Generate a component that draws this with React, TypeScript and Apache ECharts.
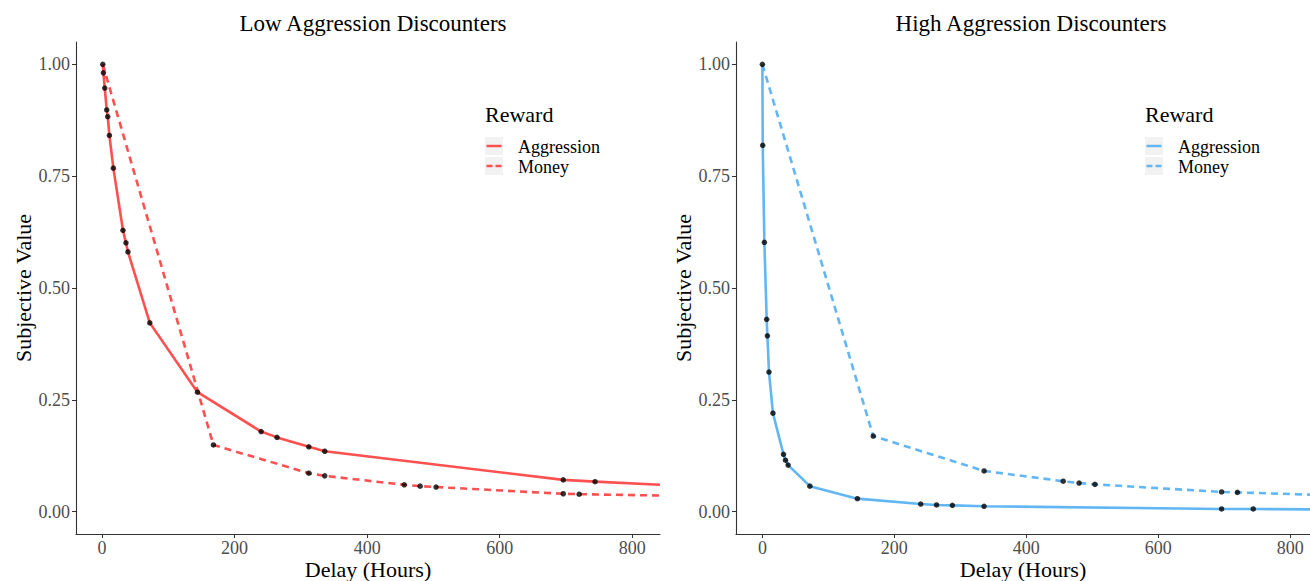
import React, { useEffect, useRef } from "react";
import * as echarts from "echarts";

// ---------- data ----------
const xTicks = [0, 200, 400, 600, 800];
const yTicks = [0, 0.25, 0.5, 0.75, 1.0];

// Low Aggression Discounters
const lowAggX = [1, 2, 4, 7, 8.5, 11, 17, 31.5, 36, 39, 72, 144, 240, 264, 312, 336, 696, 744];
const lowAggY = [1.0, 0.981, 0.947, 0.898, 0.883, 0.841, 0.768, 0.629, 0.601, 0.581, 0.422, 0.267, 0.179, 0.166, 0.145, 0.135, 0.071, 0.067];
const lowAggEnd = [842, 0.06];
const lowMonX = [1, 168, 312, 336, 456, 480, 504, 696, 720];
const lowMonY = [1.0, 0.149, 0.086, 0.08, 0.06, 0.057, 0.055, 0.04, 0.039];
const lowMonEnd = [842, 0.036];

// High Aggression Discounters
const highAggX = [0, 0.5, 3, 6.5, 7.6, 10, 16, 32, 35, 39, 72, 144, 240, 264, 288, 336, 696, 744];
const highAggY = [1.0, 0.819, 0.602, 0.43, 0.393, 0.312, 0.22, 0.128, 0.115, 0.104, 0.057, 0.029, 0.017, 0.015, 0.014, 0.012, 0.006, 0.006];
const highAggEnd = [830, 0.005];
const highMonX = [0, 168, 336, 456, 480, 504, 696, 720];
const highMonY = [1.0, 0.169, 0.091, 0.068, 0.064, 0.061, 0.044, 0.043];
const highMonEnd = [830, 0.038];

const seriesNames = ["Aggression", "Money"];
const legendTitle = "Reward";
const titles = ["Low Aggression Discounters", "High Aggression Discounters"];
const xName = "Delay (Hours)";
const yName = "Subjective Value";

const RED = "#FF5050";
const BLUE = "#62B6F4";
const FONT = "'Liberation Serif', 'Times New Roman', serif";

const pts = (xs: number[], ys: number[]) => xs.map((x, i) => [x, ys[i]]);

function legendGraphic(x: number, color: string) {
  const boxY = [137, 157];
  const els: any[] = [
    {
      type: "text",
      x,
      y: 114,
      style: { text: legendTitle, font: `22px ${FONT}`, fill: "#000", textVerticalAlign: "middle" },
    },
  ];
  boxY.forEach((by, i) => {
    els.push({ type: "rect", shape: { x, y: by, width: 18, height: 18 }, style: { fill: "#F2F2F2" } });
    els.push({
      type: "line",
      shape: { x1: x + 1.5, y1: by + 9, x2: x + 16.5, y2: by + 9 },
      style: { stroke: color, lineWidth: 2.5, lineDash: i === 1 ? [6, 3] : null },
    });
    els.push({
      type: "text",
      x: x + 33,
      y: by + 10,
      style: { text: seriesNames[i], font: `18px ${FONT}`, fill: "#000", textVerticalAlign: "middle" },
    });
  });
  return els;
}

function axisPair(idx: number, xmin: number, xmax: number) {
  const common = {
    gridIndex: idx,
    type: "value" as const,
    splitLine: { show: false },
  };
  const xAxis = {
    ...common,
    min: xmin,
    max: xmax,
    axisLine: { show: true, onZero: false, lineStyle: { color: "#333", width: 1.1 } },
    axisTick: { show: true, customValues: xTicks, length: 4, lineStyle: { color: "#333" } },
    axisLabel: { customValues: xTicks, color: "#4d4d4d", fontSize: 18, fontFamily: FONT, margin: 5 },
    name: xName,
    nameLocation: "middle",
    nameGap: 24,
    nameMoveOverlap: false,
    nameTextStyle: { fontSize: 22, color: "#000", fontFamily: FONT },
  };
  const yAxis = {
    ...common,
    min: -0.05,
    max: 1.05,
    axisLine: { show: true, onZero: false, lineStyle: { color: "#333", width: 1.1 } },
    axisTick: { show: true, customValues: yTicks, length: 4, lineStyle: { color: "#333" } },
    axisLabel: {
      customValues: yTicks,
      color: "#4d4d4d",
      fontSize: 18,
      fontFamily: FONT,
      margin: 6,
      formatter: (v: number) => v.toFixed(2),
    },
    name: yName,
    nameLocation: "middle",
    nameGap: 42,
    nameMoveOverlap: false,
    nameTextStyle: { fontSize: 22, color: "#000", fontFamily: FONT },
  };
  return { xAxis, yAxis };
}

function panelSeries(
  idx: number,
  color: string,
  aggX: number[],
  aggY: number[],
  aggEnd: number[],
  monX: number[],
  monY: number[],
  monEnd: number[]
) {
  const agg = pts(aggX, aggY);
  const mon = pts(monX, monY);
  return [
    {
      type: "line",
      name: seriesNames[0],
      xAxisIndex: idx,
      yAxisIndex: idx,
      data: [...agg, aggEnd],
      showSymbol: false,
      lineStyle: { color, width: 2.6 },
      clip: true,
      z: 2,
    },
    {
      type: "line",
      name: seriesNames[1],
      xAxisIndex: idx,
      yAxisIndex: idx,
      data: [...mon, monEnd],
      showSymbol: false,
      lineStyle: { color, width: 2.6, type: [7, 5] },
      clip: true,
      z: 2,
    },
    {
      type: "scatter",
      xAxisIndex: idx,
      yAxisIndex: idx,
      data: [...agg, ...mon.slice(1)],
      symbolSize: 5.5,
      itemStyle: { color: "#000" },
      z: 3,
    },
  ];
}

export default function App() {
  const ref = useRef<HTMLDivElement>(null);
  useEffect(() => {
    if (!ref.current) return;
    const chart = echarts.init(ref.current, null, { renderer: "svg" });
    const p0 = axisPair(0, -39.4, 842);
    const p1 = axisPair(1, -40, 830);
    const titleStyle = { fontSize: 23, fontWeight: "normal", color: "#000", fontFamily: FONT };
    chart.setOption({
      animation: false,
      backgroundColor: "#fff",
      title: [
        { text: titles[0], left: 368, top: 7, textAlign: "center", textStyle: titleStyle },
        { text: titles[1], left: 1026, top: 7, textAlign: "center", textStyle: titleStyle },
      ],
      grid: [
        { left: 76, top: 42, width: 584, height: 492, outerBoundsMode: "none", containLabel: false },
        { left: 736, top: 42, width: 574, height: 492, outerBoundsMode: "none", containLabel: false },
      ],
      xAxis: [p0.xAxis, p1.xAxis],
      yAxis: [p0.yAxis, p1.yAxis],
      series: [
        ...panelSeries(0, RED, lowAggX, lowAggY, lowAggEnd, lowMonX, lowMonY, lowMonEnd),
        ...panelSeries(1, BLUE, highAggX, highAggY, highAggEnd, highMonX, highMonY, highMonEnd),
      ],
      graphic: [...legendGraphic(485, RED), ...legendGraphic(1145, BLUE)],
    });
    return () => chart.dispose();
  }, []);
  return (
    <div
      ref={ref}
      style={{ position: "fixed", left: 0, top: 0, width: 1310, height: 581, background: "#fff" }}
    />
  );
}
